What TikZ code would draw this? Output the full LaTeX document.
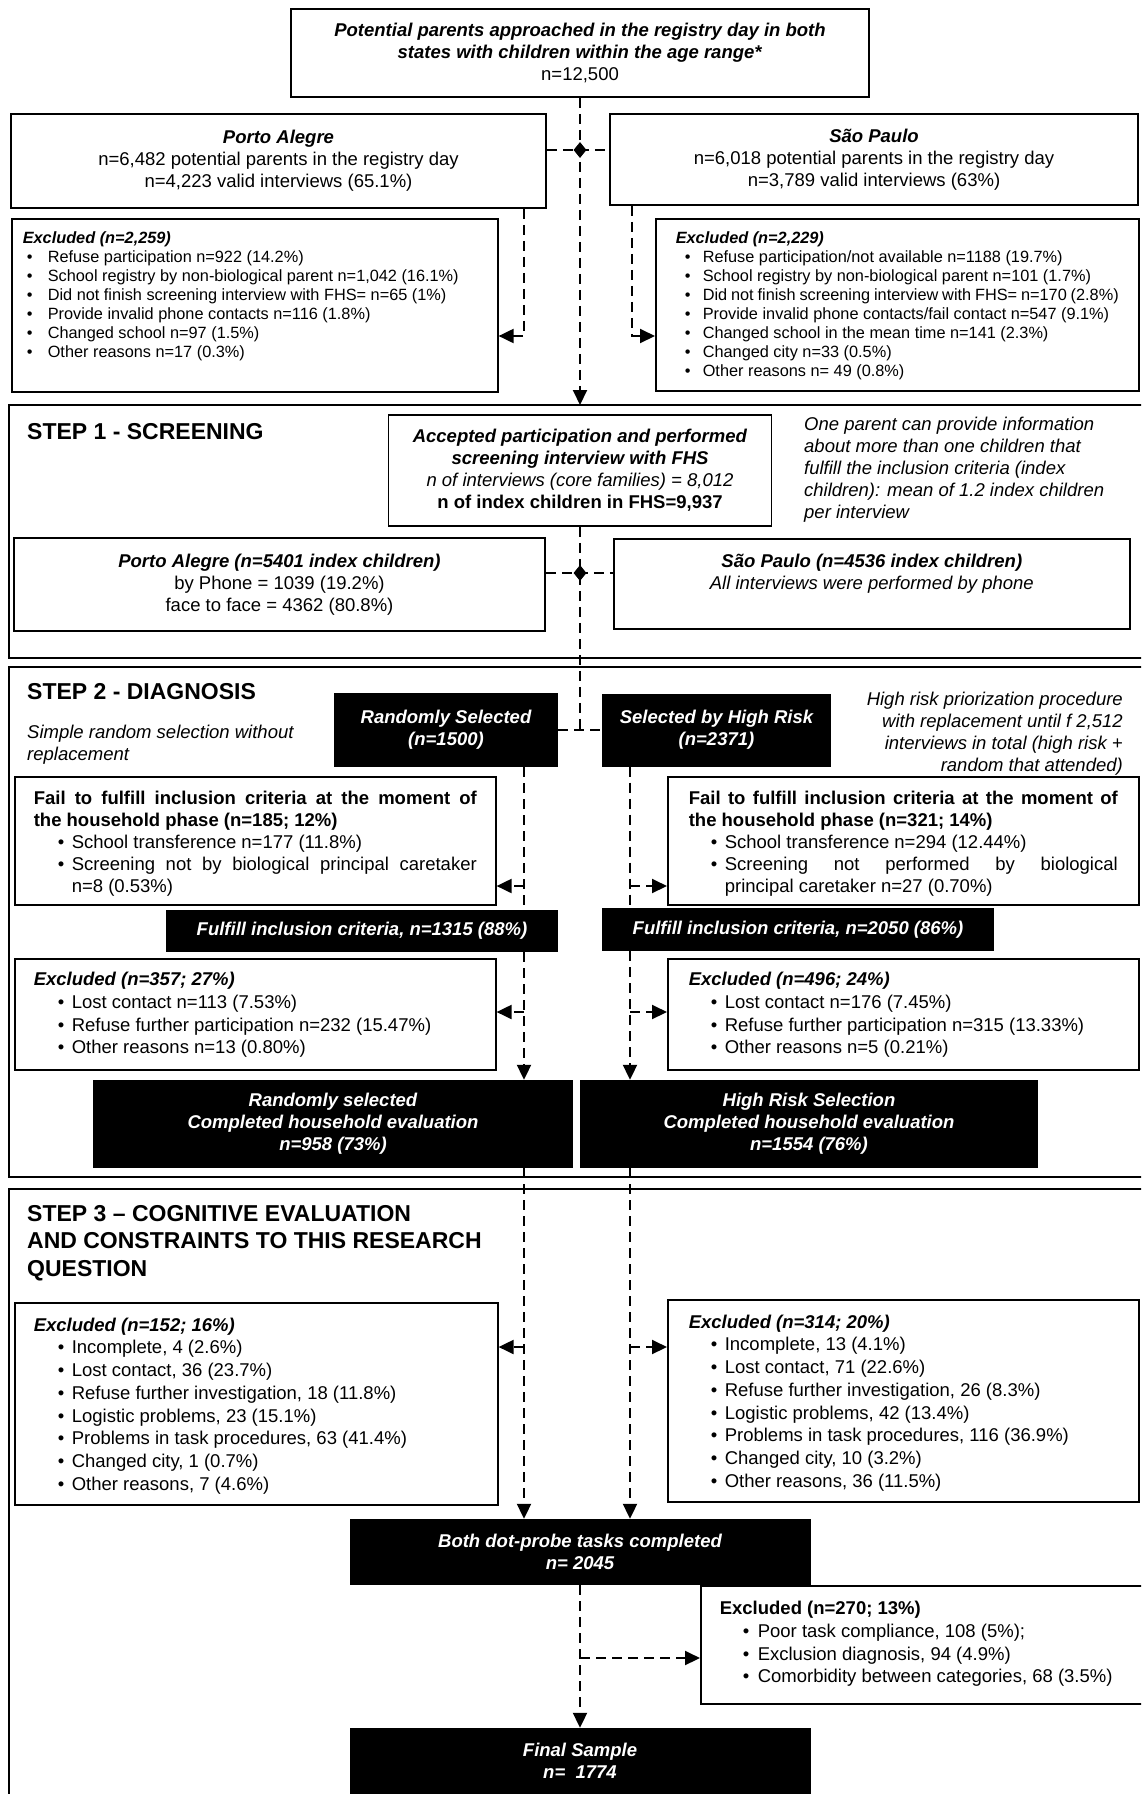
\documentclass[tikz,border=0pt]{standalone}
\usepackage{fontspec}
\setmainfont{Liberation Sans}
\usetikzlibrary{arrows.meta,shapes.geometric}

\newcommand{\mainfs}{\fontsize{18.5}{22}\selectfont}
\newcommand{\listfs}{\fontsize{18.5}{22.7}\selectfont}
\newcommand{\smallfs}{\fontsize{16.3}{19}\selectfont}
\newcommand{\stepfs}{\fontsize{23}{27.5}\selectfont\bfseries}
\newcommand{\bi}[1]{\textbf{\textit{#1}}}
% bullet line: bullet offset, text offset, text
\newcommand{\itm}[3]{\par\noindent\hangindent=#2\hbox to #2{\hspace*{#1}\textbullet\hfill}#3}
\newcommand{\tbox}[3]{\parbox[t][#2][t]{#1}{#3}}

\tikzset{
  box/.style={draw,line width=1.6pt,align=center,font=\mainfs},
  lbox/.style={draw,line width=1.6pt,anchor=north west,font=\mainfs},
  blk/.style={fill=black,text=white,align=center,font=\mainfs\bfseries\itshape},
  note/.style={inner sep=0pt,align=left,font=\mainfs\itshape},
  steptitle/.style={anchor=north west,inner sep=0pt,align=left,font=\stepfs},
  diam/.style={diamond,fill=black,inner sep=0pt,minimum width=13pt,minimum height=16pt},
  panel/.style={line width=2pt},
  dline/.style={line width=2pt,dash pattern=on 10pt off 6pt},
  arr/.style={-{Triangle[length=15pt,width=14pt]}}
}

\begin{document}
\begin{tikzpicture}[x=1pt,y=-1pt]
  \clip (0,0) rectangle (1141,1794);
  % step frames
  \draw[panel] (9,405) rectangle (1170,658);
  \draw[panel] (9,667) rectangle (1170,1177);
  \draw[panel] (9,1189) rectangle (1170,1830);
  %
  % recruitment
  \node[box,minimum width=578,minimum height=88] (top) at (580,53)
    {\bi{Potential parents approached in the registry day in both}\\
     \bi{states with children within the age range*}\\ n=12,500};
  \node[box,minimum width=535,minimum height=94] (paReg) at (278.5,161)
    {\bi{Porto Alegre}\\ n=6,482 potential parents in the registry day\\
     n=4,223 valid interviews (65.1\%)};
  \node[box,minimum width=528,minimum height=91] (spReg) at (874,159.5)
    {\bi{São Paulo}\\ n=6,018 potential parents in the registry day\\
     n=3,789 valid interviews (63\%)};
  \node[diam] (d1) at (580,150) {};
  %
  \node[lbox,inner xsep=11pt,inner ysep=13pt,font=\smallfs] (exPA) at (11,218)
    {\tbox{464pt}{147pt}{\bi{Excluded (n=2,259)}
     \itm{4pt}{25pt}{Refuse participation n=922 (14.2\%)}
     \itm{4pt}{25pt}{School registry by non-biological parent n=1,042 (16.1\%)}
     \itm{4pt}{25pt}{Did not finish screening interview with FHS= n=65 (1\%)}
     \itm{4pt}{25pt}{Provide invalid phone contacts n=116 (1.8\%)}
     \itm{4pt}{25pt}{Changed school n=97 (1.5\%)}
     \itm{4pt}{25pt}{Other reasons n=17 (0.3\%)}}};
  \node[lbox,inner xsep=20pt,inner ysep=13pt,font=\smallfs] (exSP) at (655,218)
    {\tbox{443pt}{146pt}{\bi{Excluded (n=2,229)}
     \itm{9pt}{27pt}{Refuse participation/not available n=1188 (19.7\%)}
     \itm{9pt}{27pt}{School registry by non-biological parent n=101 (1.7\%)}
     \itm{9pt}{27pt}{Did not finish screening interview with FHS= n=170 (2.8\%)}
     \itm{9pt}{27pt}{Provide invalid phone contacts/fail contact n=547 (9.1\%)}
     \itm{9pt}{27pt}{Changed school in the mean time n=141 (2.3\%)}
     \itm{9pt}{27pt}{Changed city n=33 (0.5\%)}
     \itm{9pt}{27pt}{Other reasons n= 49 (0.8\%)}}};
  %
  % step 1
  \node[steptitle] (s1) at (27,423) {STEP 1 - SCREENING};
  \node[box,minimum width=383,minimum height=111] (acc) at (580,470.5)
    {\bi{Accepted participation and performed}\\ \bi{screening interview with FHS}\\
     \textit{n of interviews (core families) = 8,012}\\
     \textbf{n of index children in FHS=9,937}};
  \node[note,anchor=north west] (n1) at (804,417)
    {One parent can provide information\\ about more than one children that\\
     fulfill the inclusion criteria (index\\ children): mean of 1.2 index children\\
     per interview};
  \node[box,minimum width=531,minimum height=93] (paIdx) at (279.5,584.5)
    {\bi{Porto Alegre (n=5401 index children)}\\ by Phone = 1039 (19.2\%)\\
     face to face = 4362 (80.8\%)};
  \node[lbox,inner xsep=0pt,inner ysep=15pt] (spIdx) at (613,538)
    {\tbox{516pt}{60pt}{\centering\bi{São Paulo (n=4536 index children)}\\
     \textit{All interviews were performed by phone}}};
  \node[diam] (d2) at (580,573) {};
  %
  % step 2
  \node[steptitle] (s2) at (27,683) {STEP 2 - DIAGNOSIS};
  \node[blk,minimum width=224,minimum height=74] (rand) at (446,730)
    {Randomly Selected\\ (n=1500)};
  \node[blk,minimum width=229,minimum height=73] (high) at (716.5,730)
    {Selected by High Risk\\ (n=2371)};
  \node[note,anchor=north west] (n2) at (27,725)
    {Simple random selection without\\ replacement};
  \node[note,anchor=north east,align=right] (n3) at (1123,692)
    {High risk priorization procedure\\ with replacement until f 2,512\\
     interviews in total (high risk +\\ random that attended)};
  %
  \node[lbox,inner xsep=19pt,inner ysep=14.5pt] (failL) at (14,776)
    {\tbox{443pt}{99pt}{\textbf{Fail to fulfill inclusion criteria at the moment of\linebreak
     the household phase (n=185; 12\%)}
     \itm{24pt}{38pt}{School transference n=177 (11.8\%)}
     \itm{24pt}{38pt}{Screening not by biological principal caretaker\linebreak
     n=8 (0.53\%)}}};
  \node[lbox,inner xsep=21pt,inner ysep=14.5pt] (failR) at (667,776)
    {\tbox{429pt}{99pt}{\textbf{Fail to fulfill inclusion criteria at the moment of\linebreak
     the household phase (n=321; 14\%)}
     \itm{22pt}{36pt}{School transference n=294 (12.44\%)}
     \itm{22pt}{36pt}{Screening not performed by biological\linebreak
     principal caretaker n=27 (0.70\%)}}};
  \node[blk,minimum width=392,minimum height=42] (fulL) at (362,931)
    {Fulfill inclusion criteria, n=1315 (88\%)};
  \node[blk,minimum width=392,minimum height=43] (fulR) at (798,929.5)
    {Fulfill inclusion criteria, n=2050 (86\%)};
  %
  \node[lbox,inner xsep=19pt,inner ysep=13.5pt,font=\listfs] (exL2) at (14,958)
    {\tbox{443pt}{84pt}{\bi{Excluded (n=357; 27\%)}
     \itm{24pt}{38pt}{Lost contact n=113 (7.53\%)}
     \itm{24pt}{38pt}{Refuse further participation n=232 (15.47\%)}
     \itm{24pt}{38pt}{Other reasons n=13 (0.80\%)}}};
  \node[lbox,inner xsep=21pt,inner ysep=13.5pt,font=\listfs] (exR2) at (667,958)
    {\tbox{429pt}{84pt}{\bi{Excluded (n=496; 24\%)}
     \itm{22pt}{36pt}{Lost contact n=176 (7.45\%)}
     \itm{22pt}{36pt}{Refuse further participation n=315 (13.33\%)}
     \itm{22pt}{36pt}{Other reasons n=5 (0.21\%)}}};
  \node[blk,minimum width=480,minimum height=88] (compL) at (333,1124)
    {Randomly selected\\ Completed household evaluation\\ n=958 (73\%)};
  \node[blk,minimum width=458,minimum height=88] (compR) at (809,1124)
    {High Risk Selection\\ Completed household evaluation\\ n=1554 (76\%)};
  %
  % step 3
  \node[steptitle] (s3) at (27,1205)
    {STEP 3 – COGNITIVE EVALUATION\\ AND CONSTRAINTS TO THIS RESEARCH\\ QUESTION};
  \node[lbox,inner xsep=19pt,inner ysep=15pt,font=\listfs] (exL3) at (14,1302)
    {\tbox{445pt}{172pt}{\bi{Excluded (n=152; 16\%)}
     \itm{24pt}{38pt}{Incomplete, 4 (2.6\%)}
     \itm{24pt}{38pt}{Lost contact, 36 (23.7\%)}
     \itm{24pt}{38pt}{Refuse further investigation, 18 (11.8\%)}
     \itm{24pt}{38pt}{Logistic problems, 23 (15.1\%)}
     \itm{24pt}{38pt}{Problems in task procedures, 63 (41.4\%)}
     \itm{24pt}{38pt}{Changed city, 1 (0.7\%)}
     \itm{24pt}{38pt}{Other reasons, 7 (4.6\%)}}};
  \node[lbox,inner xsep=21pt,inner ysep=15pt,font=\listfs] (exR3) at (667,1299)
    {\tbox{429pt}{172pt}{\bi{Excluded (n=314; 20\%)}
     \itm{22pt}{36pt}{Incomplete, 13 (4.1\%)}
     \itm{22pt}{36pt}{Lost contact, 71 (22.6\%)}
     \itm{22pt}{36pt}{Refuse further investigation, 26 (8.3\%)}
     \itm{22pt}{36pt}{Logistic problems, 42 (13.4\%)}
     \itm{22pt}{36pt}{Problems in task procedures, 116 (36.9\%)}
     \itm{22pt}{36pt}{Changed city, 10 (3.2\%)}
     \itm{22pt}{36pt}{Other reasons, 36 (11.5\%)}}};
  \node[blk,minimum width=461,minimum height=66] (dot) at (580,1552)
    {Both dot-probe tasks completed\\ n= 2045};
  \node[lbox,inner xsep=19pt,inner ysep=15.5pt,font=\listfs] (ex270) at (700,1585)
    {\tbox{430pt}{87pt}{\textbf{Excluded (n=270; 13\%)}
     \itm{23pt}{38pt}{Poor task compliance, 108 (5\%);}
     \itm{23pt}{38pt}{Exclusion diagnosis, 94 (4.9\%)}
     \itm{23pt}{38pt}{Comorbidity between categories, 68 (3.5\%)}}};
  \node[blk,minimum width=461,minimum height=66] (final) at (580,1761)
    {Final Sample\\ n=\ \ 1774};
  %
  % connectors
  \coordinate (s1top) at (580,405);
  \coordinate (jn) at (580,730);
  \coordinate (bPA) at (524,336);  \coordinate (bSP) at (632,336);
  \coordinate (b1L) at (524,886);  \coordinate (b1R) at (630,886);
  \coordinate (b2L) at (524,1012); \coordinate (b2R) at (630,1012);
  \coordinate (b3L) at (524,1347); \coordinate (b3R) at (630,1347);
  \coordinate (b4) at (580,1658);
  \draw[dline,arr] (top.south) -- (s1top);
  \draw[dline] (paReg.east |- d1) -- (spReg.west |- d1);
  \draw[dline,arr] (paReg.south -| bPA) |- (exPA.east |- bPA);
  \draw[dline,arr] (spReg.south -| bSP) |- (exSP.west |- bSP);
  \draw[dline] (acc.south) -- (jn);
  \draw[dline] (paIdx.east |- d2) -- (spIdx.west |- d2);
  \draw[dline] (rand.east) -- (high.west);
  %
  \draw[dline] (rand.south -| b1L) -- (fulL.north -| b1L);
  \draw[dline] (high.south -| b1R) -- (fulR.north -| b1R);
  \draw[dline,arr] (fulL.south -| b1L) -- (compL.north -| b1L);
  \draw[dline,arr] (fulR.south -| b1R) -- (compR.north -| b1R);
  \draw[dline,arr] (b1L) -- (failL.east |- b1L);
  \draw[dline,arr] (b1R) -- (failR.west |- b1R);
  \draw[dline,arr] (b2L) -- (exL2.east |- b2L);
  \draw[dline,arr] (b2R) -- (exR2.west |- b2R);
  \draw[dline,arr] (compL.south -| b3L) -- (dot.north -| b3L);
  \draw[dline,arr] (compR.south -| b3R) -- (dot.north -| b3R);
  \draw[dline,arr] (b3L) -- (exL3.east |- b3L);
  \draw[dline,arr] (b3R) -- (exR3.west |- b3R);
  \draw[dline,arr] (dot.south) -- (final.north);
  \draw[dline,arr] (b4) -- (ex270.west |- b4);
\end{tikzpicture}
\end{document}
